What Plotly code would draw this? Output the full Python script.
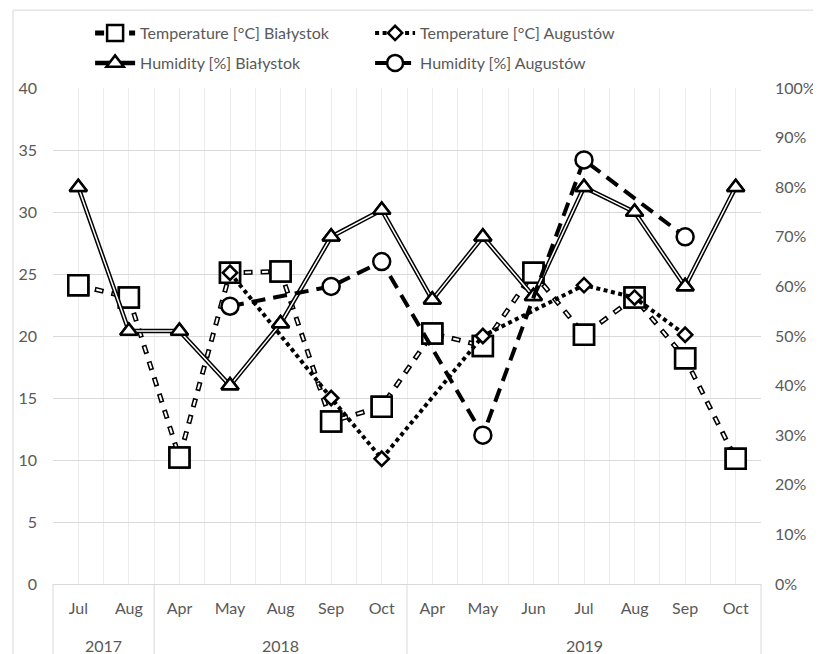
import plotly.graph_objects as go

# category axis (two levels)
years = ["2017"] * 2 + ["2018"] * 5 + ["2019"] * 7
months = ["Jul", "Aug", "Apr", "May", "Aug", "Sep", "Oct",
          "Apr", "May", "Jun", "Jul", "Aug", "Sep", "Oct"]

# series values
temp_bialystok = [24.1, 23.1, 10.2, 25.1, 25.2, 13.1, 14.3, 20.2, 19.2, 25.1, 20.1, 23.1, 18.2, 10.1]
temp_augustow = [None, None, None, 25.1, None, 15.0, 10.1, None, 20.0, None, 24.1, 23.1, 20.1, None]
hum_bialystok = [80, 51, 51, 40, 52.5, 70, 75.4, 57.3, 70, 58, 80, 75, 60, 80]
hum_augustow = [None, None, None, 56, None, 60, 65, None, 30, None, 85.5, None, 70, None]

n = len(months)
x = list(range(n))
GRAY = "#595959"
FONT = "Lato, sans-serif"

fig = go.Figure()

# Temperature Bialystok: outlined dashes + squares
fig.add_trace(go.Scatter(
    x=x, y=temp_bialystok, mode="lines+markers", connectgaps=True,
    name="Temperature [°C] Białystok", legend="legend",
    line=dict(color="black", width=5, dash="9px,8px"),
    marker=dict(symbol="square", size=20, color="white", line=dict(color="black", width=2.5)),
))
fig.add_trace(go.Scatter(
    x=x, y=temp_bialystok, mode="lines", connectgaps=True, showlegend=False,
    line=dict(color="white", width=2, dash="0px,1.5px,6px,9.5px"), hoverinfo="skip",
))
fig.add_trace(go.Scatter(
    x=x, y=temp_bialystok, mode="markers", showlegend=False, hoverinfo="skip",
    marker=dict(symbol="square", size=20, color="white", line=dict(color="black", width=2.5)),
))

# Temperature Augustow: dotted + diamonds
fig.add_trace(go.Scatter(
    x=x, y=temp_augustow, mode="lines+markers", connectgaps=True,
    name="Temperature [°C] Augustów", legend="legend",
    line=dict(color="black", width=4, dash="4px,3.5px"),
    marker=dict(symbol="diamond", size=11, color="white", line=dict(color="black", width=2.5)),
))

# Humidity Bialystok: double line + triangles (right axis)
fig.add_trace(go.Scatter(
    x=x, y=hum_bialystok, mode="lines+markers", yaxis="y2",
    name="Humidity [%] Białystok", legend="legend2",
    line=dict(color="black", width=4.5),
    marker=dict(symbol="triangle-up", size=15, color="white", line=dict(color="black", width=2.5)),
))
fig.add_trace(go.Scatter(
    x=x, y=hum_bialystok, mode="lines", yaxis="y2", showlegend=False, hoverinfo="skip",
    line=dict(color="white", width=1.5),
))
fig.add_trace(go.Scatter(
    x=x, y=hum_bialystok, mode="markers", yaxis="y2", showlegend=False, hoverinfo="skip",
    marker=dict(symbol="triangle-up", size=15, color="white", line=dict(color="black", width=2.5)),
))

# Humidity Augustow: long dashes + circles (right axis)
fig.add_trace(go.Scatter(
    x=x, y=hum_augustow, mode="lines+markers", yaxis="y2", connectgaps=True,
    name="Humidity [%] Augustów", legend="legend2",
    line=dict(color="black", width=4, dash="14px,8px"),
    marker=dict(symbol="circle", size=17, color="white", line=dict(color="black", width=2.5)),
))

# year groups: dividers below the axis and centred year labels
groups = []
for i, yr in enumerate(years):
    if not groups or groups[-1][0] != yr:
        groups.append([yr, i, i])
    else:
        groups[-1][2] = i

shapes = []
bounds = sorted({g[1] - 0.5 for g in groups} | {g[2] + 0.5 for g in groups})
for b in bounds:
    xf = (b + 0.5) / n
    shapes.append(dict(type="line", xref="paper", yref="paper", x0=xf, x1=xf, y0=0, y1=-0.2,
                       line=dict(color="#d9d9d9", width=1)))
# outer chart frame
shapes.append(dict(type="rect", xref="paper", yref="paper", x0=-0.0565, x1=1.3, y0=-0.3, y1=1.157,
                   line=dict(color="#d9d9d9", width=1), layer="below"))

annotations = [dict(x=(g[1] + g[2]) / 2, y=0, xref="x", yref="paper", yshift=-61,
                    text=g[0], showarrow=False, yanchor="middle",
                    font=dict(family=FONT, size=16, color=GRAY)) for g in groups]

legend_common = dict(orientation="h", xref="container", yref="container", x=0.1,
                     xanchor="left", yanchor="middle", entrywidth=225, itemwidth=40,
                     font=dict(family=FONT, size=16, color=GRAY), bgcolor="rgba(0,0,0,0)")

fig.update_layout(
    width=821, height=654,
    margin=dict(l=45, r=68, t=80, b=78, autoexpand=False),
    paper_bgcolor="white", plot_bgcolor="white",
    font=dict(family=FONT, size=16, color=GRAY),
    xaxis=dict(range=[-0.5, n - 0.5], tickmode="array", tickvals=x, ticktext=months,
               showgrid=True, gridcolor="#ececec", zeroline=False,
               showline=True, linecolor="#d9d9d9", linewidth=1,
               ticks="", ticklabelstandoff=10,
               minor=dict(tickmode="array", tickvals=[i - 0.5 for i in range(1, n)],
                          showgrid=True, gridcolor="#ececec")),
    yaxis=dict(range=[0, 40], dtick=5, gridcolor="#d9d9d9", zeroline=False,
               showline=False, ticks="", ticklabelstandoff=15),
    yaxis2=dict(range=[0, 100], dtick=10, ticksuffix="%", overlaying="y", side="right",
                showgrid=False, zeroline=False, showline=False, ticks="", ticklabelstandoff=13),
    legend=dict(legend_common, y=1 - 25 / 654),
    legend2=dict(legend_common, y=1 - 55 / 654),
    shapes=shapes,
    annotations=annotations,
    showlegend=True,
)

fig.write_html("out.html")
